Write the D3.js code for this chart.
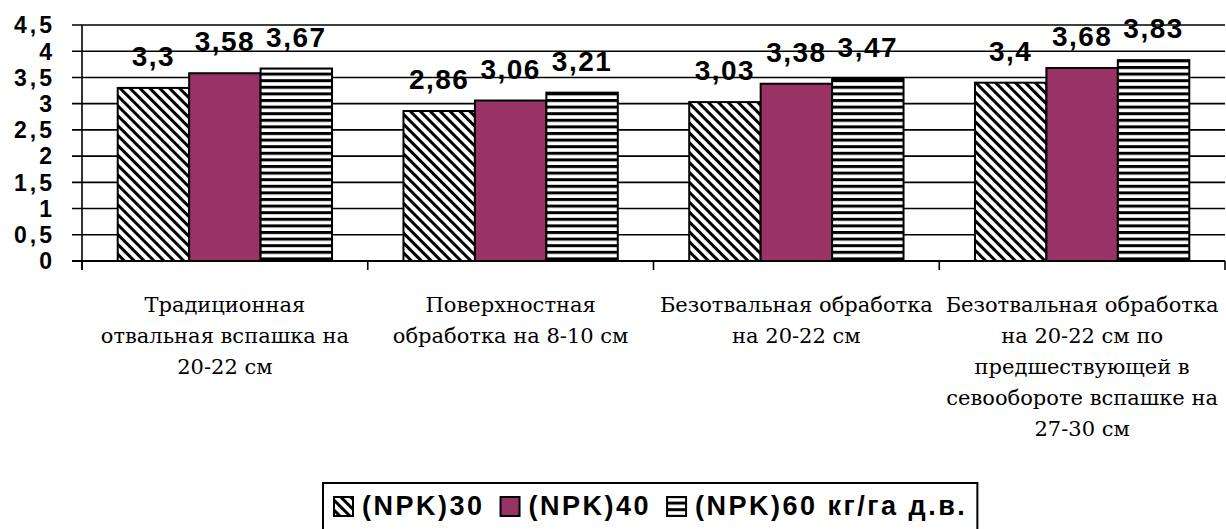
<!DOCTYPE html>
<html><head><meta charset="utf-8">
<script src="https://cdn.jsdelivr.net/npm/d3@7"></script>
<style>body{margin:0;background:#fff}svg{display:block}</style>
</head><body>
<svg id="c" width="1226" height="529"></svg>
<script>
const categories = [
  ["Традиционная","отвальная вспашка на","20-22 см"],
  ["Поверхностная","обработка на 8-10 см"],
  ["Безотвальная обработка","на 20-22 см"],
  ["Безотвальная обработка","на 20-22 см по","предшествующей в","севообороте вспашке на","27-30 см"]
];
const seriesNames = ["(NPK)30","(NPK)40","(NPK)60 кг/га д.в."];
const s30 = [3.3, 2.86, 3.03, 3.4];
const s40 = [3.58, 3.06, 3.38, 3.68];
const s60 = [3.67, 3.21, 3.47, 3.83];
const yTicks = [0,0.5,1,1.5,2,2.5,3,3.5,4,4.5];
const seriesValues = [s30, s40, s60];

const SANS = "'Liberation Sans'";
const SERIF = "'DejaVu Serif'";

const svg = d3.select("#c");
const L = 82, R = 1225, T = 25, B = 261;
const catIdx = d3.range(categories.length);
const x0 = d3.scaleBand().domain(catIdx).range([L, R]).paddingInner(0.25).paddingOuter(0.125);
const x1 = d3.scaleBand().domain(d3.range(3)).range([0, x0.bandwidth()]);
const y = d3.scaleLinear().domain([0, 4.5]).range([B, T]);

// patterns
const defs = svg.append("defs");
const pd = defs.append("pattern").attr("id","diag").attr("patternUnits","userSpaceOnUse")
  .attr("width",7).attr("height",7).attr("patternTransform","rotate(-45)");
pd.append("rect").attr("width",7).attr("height",7).attr("fill","#fff");
pd.append("rect").attr("width",3).attr("height",7).attr("fill","#000");
const ph = defs.append("pattern").attr("id","horiz").attr("patternUnits","userSpaceOnUse")
  .attr("width",8).attr("height",6.6);
ph.append("rect").attr("width",8).attr("height",6.6).attr("fill","#fff");
ph.append("rect").attr("width",8).attr("height",3).attr("fill","#000");
const fills = ["url(#diag)", "#993366", "url(#horiz)"];

// gridlines
svg.append("g").selectAll("line").data(yTicks).join("line")
  .attr("x1", L-10).attr("x2", R).attr("y1", d=>y(d)).attr("y2", d=>y(d))
  .attr("stroke","#000").attr("stroke-width",1.6);

// y axis line
svg.append("line").attr("x1",L).attr("x2",L).attr("y1",T).attr("y2",B+9)
  .attr("stroke","#000").attr("stroke-width",1.6);

// y tick labels
svg.append("g").selectAll("text").data(yTicks).join("text")
  .style("font-family", SANS).style("font-weight","bold").style("font-size","23px")
  .attr("x", 55).attr("y", d=>y(d)).attr("dy","0.36em")
  .attr("text-anchor","end").attr("letter-spacing",3)
  .text(d => String(d).replace(".", ","));

// category ticks
const bounds = catIdx.map(i => x0(i) - x0.step()*x0.paddingInner()/2).concat([R]);
bounds[0] = L;
svg.append("g").selectAll("line").data(bounds).join("line")
  .attr("x1", d=>d).attr("x2", d=>d).attr("y1", B).attr("y2", B+9)
  .attr("stroke","#000").attr("stroke-width",1.6);

// bars
const bars = [];
seriesValues.forEach((vals, s) => vals.forEach((v, i) => bars.push({s, i, v})));
svg.append("g").selectAll("rect").data(bars).join("rect")
  .attr("x", d => x0(d.i) + x1(d.s))
  .attr("y", d => y(d.v))
  .attr("width", x1.bandwidth())
  .attr("height", d => B - y(d.v))
  .attr("fill", d => fills[d.s])
  .attr("stroke","#000").attr("stroke-width",2);

// x axis line
svg.append("line").attr("x1",L-10).attr("x2",R).attr("y1",B).attr("y2",B)
  .attr("stroke","#000").attr("stroke-width",2);

// data labels
svg.append("g").selectAll("text").data(bars).join("text")
  .style("font-family", SANS).style("font-weight","bold").style("font-size","28px")
  .attr("x", d => x0(d.i) + x1(d.s) + x1.bandwidth()/2)
  .attr("y", d => y(d.v) - 22)
  .attr("text-anchor","middle").attr("letter-spacing",1.5)
  .text(d => String(d.v).replace(".", ","));

// category labels (one text element per line)
const cg = svg.append("g");
const catLines = [];
categories.forEach((lines, i) => lines.forEach((ln, k) => catLines.push({i, k, ln})));
cg.selectAll("text").data(catLines).join("text")
  .style("font-family", SERIF).style("font-size","21px")
  .attr("text-anchor","middle")
  .attr("x", d => x0(d.i) + x0.bandwidth()/2)
  .attr("y", d => 312 + d.k*31)
  .text(d => d.ln);

// legend
const lg = svg.append("g");
const box = lg.append("rect").attr("x",323).attr("y",483).attr("height",60)
  .attr("fill","#fff").attr("stroke","#000").attr("stroke-width",2);
let cx = 334;
seriesNames.forEach((n, s) => {
  lg.append("rect").attr("x", cx).attr("y", 497).attr("width", 19).attr("height", 19)
    .attr("fill", fills[s]).attr("stroke","#000").attr("stroke-width",2);
  const t = lg.append("text").attr("x", cx + 28).attr("y", 515)
    .style("font-family", SANS).style("font-weight","bold").style("font-size","27px")
    .attr("letter-spacing",2.5).text(n);
  cx = cx + 28 + t.node().getComputedTextLength() + 16;
});
box.attr("width", cx - 323 - 6);
</script>
</body></html>
